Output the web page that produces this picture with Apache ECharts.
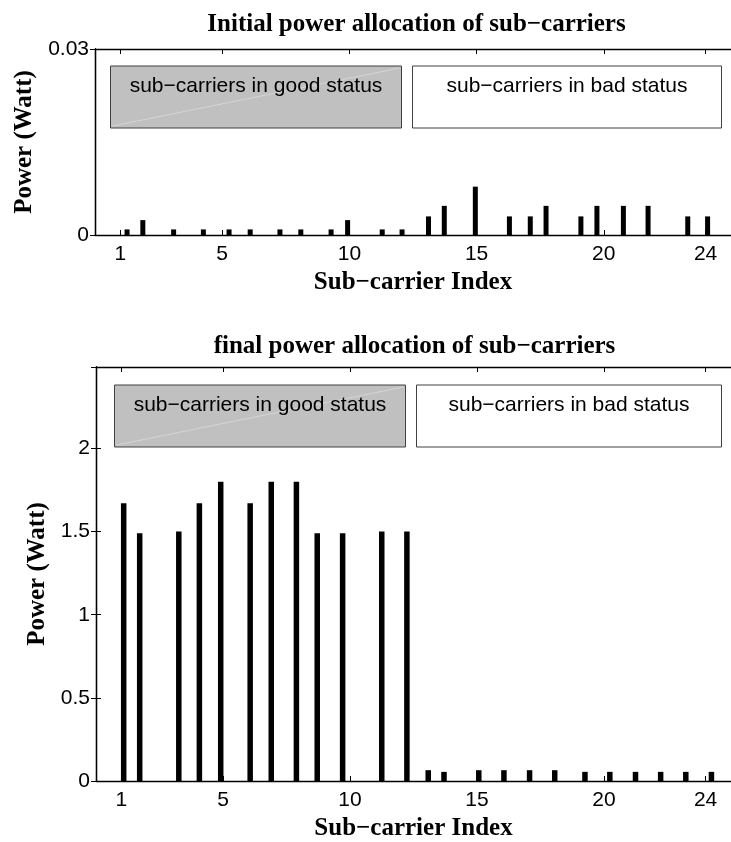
<!DOCTYPE html>
<html>
<head>
<meta charset="utf-8">
<script src="https://cdn.jsdelivr.net/npm/echarts@6/dist/echarts.min.js"></script>
<style>
  html, body { margin: 0; padding: 0; background: #fff; }
  #chart { width: 731px; height: 842px; }
</style>
</head>
<body>
<div id="chart"></div>
<script>
// sub-carrier positions and powers
const initialIndex = [1.26, 1.88, 3.09, 4.26, 5.27, 6.10, 7.27, 8.09, 9.28, 9.93, 11.29, 12.07,
    13.11, 13.73, 14.95, 16.29, 17.11, 17.73, 19.10, 19.73, 20.77, 21.74, 23.30, 24.08]
const initialPower = [0.0009, 0.0024, 0.0009, 0.0009, 0.0009, 0.0009, 0.0009, 0.0009, 0.0009, 0.0024, 0.0009, 0.0009,
    0.003, 0.0047, 0.0078, 0.003, 0.003, 0.0047, 0.003, 0.0047, 0.0047, 0.0047, 0.003, 0.003]

const finalIndex = [1.09, 1.72, 3.26, 4.07, 4.91, 6.07, 6.90, 7.89, 8.71, 9.71, 11.25, 12.24,
    13.08, 13.70, 15.07, 16.06, 17.07, 18.06, 19.25, 20.23, 21.24, 22.23, 23.22, 24.23]
const finalPower = [1.67, 1.49, 1.5, 1.67, 1.8, 1.67, 1.8, 1.8, 1.49, 1.49, 1.5, 1.5,
    0.065, 0.055, 0.065, 0.065, 0.065, 0.065, 0.055, 0.055, 0.055, 0.055, 0.055, 0.055]

const xTicks = [1, 5, 10, 15, 20, 24]
const titles = ["Initial power allocation of sub\u2212carriers", "final power allocation of sub\u2212carriers"]
const xName = "Sub\u2212carrier Index"
const yName = "Power (Watt)"
const goodLabel = "sub\u2212carriers in good status"
const badLabel = "sub\u2212carriers in bad status"

const sans = "'Liberation Sans', Arial, sans-serif"
const serif = "'Liberation Serif', 'Times New Roman', serif"

const grids = [
    { left: 95, top: 49, width: 643, height: 186 },
    { left: 96, top: 367, width: 637, height: 415 }
]

function bottomX(gridIndex) {
    return {
        type: "value", gridIndex, min: 0, max: 25, position: "bottom",
        name: xName, nameLocation: "middle", nameGap: 35,
        nameTextStyle: { fontFamily: serif, fontWeight: "bold", fontSize: 25, color: "#000" },
        axisLine: { show: true, onZero: false, lineStyle: { color: "#000", width: 1.3 } },
        axisTick: { show: true, inside: true, length: 5, customValues: xTicks, lineStyle: { color: "#000" } },
        axisLabel: { customValues: xTicks, margin: 9, fontFamily: sans, fontSize: 21, color: "#000" },
        splitLine: { show: false }
    }
}

function topX(gridIndex) {
    return {
        type: "value", gridIndex, min: 0, max: 25, position: "top",
        axisLine: { show: true, onZero: false, lineStyle: { color: "#000", width: 1.3 } },
        axisTick: { show: true, inside: true, length: 5, customValues: xTicks, lineStyle: { color: "#000" } },
        axisLabel: { show: false },
        splitLine: { show: false }
    }
}

function leftY(gridIndex, max, interval, gap) {
    return {
        type: "value", gridIndex, min: 0, max, interval, position: "left",
        name: yName, nameLocation: "middle", nameGap: gap,
        nameTextStyle: { fontFamily: serif, fontWeight: "bold", fontSize: 25, color: "#000" },
        axisLine: { show: true, lineStyle: { color: "#000", width: 1.3 } },
        axisTick: { show: true, inside: true, length: 5, lineStyle: { color: "#000" } },
        axisLabel: { showMaxLabel: interval === max, margin: 6, fontFamily: sans, fontSize: 21, color: "#000" },
        splitLine: { show: false }
    }
}

function rightY(gridIndex, max, interval) {
    return {
        type: "value", gridIndex, min: 0, max, interval, position: "right",
        axisLine: { show: true, lineStyle: { color: "#000", width: 1.3 } },
        axisTick: { show: true, inside: true, length: 5, lineStyle: { color: "#000" } },
        axisLabel: { show: false },
        splitLine: { show: false }
    }
}

function pairs(xs, ys) {
    return xs.map((x, i) => [x, ys[i]])
}

// text boxes that sit in the upper part of each panel
function statusBoxes(top, goodLeft, goodRight, badLeft, badRight) {
    const h = 62
    return [
        {
            type: "rect", z: 10,
            shape: { x: goodLeft, y: top, width: goodRight - goodLeft, height: h },
            style: { fill: "#c0c0c0", stroke: "#404040", lineWidth: 1 }
        },
        {
            type: "line", z: 11,
            shape: { x1: goodLeft + 2, y1: top + h - 2, x2: goodRight - 2, y2: top + 2 },
            style: { stroke: "#d6d6d6", lineWidth: 1 }
        },
        {
            type: "text", z: 12, x: (goodLeft + goodRight) / 2, y: top + 20,
            style: { text: goodLabel, font: "21px " + sans, fill: "#000", align: "center", verticalAlign: "middle" }
        },
        {
            type: "rect", z: 10,
            shape: { x: badLeft, y: top, width: badRight - badLeft, height: h },
            style: { fill: "#fff", stroke: "#404040", lineWidth: 1 }
        },
        {
            type: "text", z: 12, x: (badLeft + badRight) / 2, y: top + 20,
            style: { text: badLabel, font: "21px " + sans, fill: "#000", align: "center", verticalAlign: "middle" }
        }
    ]
}

const chart = echarts.init(document.getElementById("chart"), null, { renderer: "canvas" })

const option = {
    animation: false,
    backgroundColor: "#fff",
    title: titles.map((t, i) => ({
        text: t,
        left: grids[i].left + grids[i].width / 2,
        textAlign: "center",
        top: i === 0 ? 12 : 334,
        padding: 0,
        textStyle: { fontFamily: serif, fontWeight: "bold", fontSize: 25, color: "#000" }
    })),
    grid: grids,
    xAxis: [bottomX(0), topX(0), bottomX(1), topX(1)],
    yAxis: [leftY(0, 0.03, 0.03, 53), rightY(0, 0.03, 0.03), leftY(1, 2.49, 0.5, 41), rightY(1, 2.49, 0.5)],
    series: [
        {
            type: "bar", xAxisIndex: 0, yAxisIndex: 0, barWidth: 5,
            itemStyle: { color: "#000" }, silent: true,
            data: pairs(initialIndex, initialPower)
        },
        {
            type: "bar", xAxisIndex: 2, yAxisIndex: 2, barWidth: 5.5,
            itemStyle: { color: "#000" }, silent: true,
            data: pairs(finalIndex, finalPower)
        }
    ],
    graphic: [
        ...statusBoxes(66, 110.5, 401.5, 412.5, 721.5),
        ...statusBoxes(385, 114.5, 405.5, 416.5, 721.5)
    ]
}

option && chart.setOption(option)
</script>
</body>
</html>
